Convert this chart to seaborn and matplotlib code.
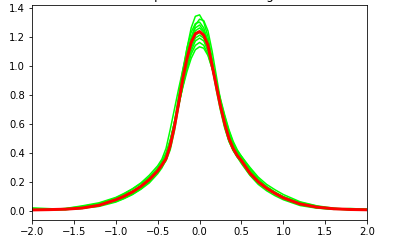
import numpy as np
import pandas as pd
import matplotlib
matplotlib.use("Agg")
import matplotlib.pyplot as plt
import seaborn as sns

# common grid (finer near the peak)
x_grid = [-2.0, -1.8, -1.6, -1.4, -1.2, -1.0, -0.9, -0.8, -0.7, -0.6, -0.5,
          -0.45, -0.4, -0.35, -0.3, -0.25, -0.2, -0.15, -0.1, -0.05, 0.0,
          0.05, 0.1, 0.15, 0.2, 0.25, 0.3, 0.35, 0.4, 0.45, 0.5,
          0.6, 0.7, 0.8, 0.9, 1.0, 1.2, 1.4, 1.6, 1.8, 2.0]

# mean density (red)
mean_density = [0.006, 0.008, 0.011, 0.019, 0.038, 0.076, 0.100, 0.130, 0.168, 0.215, 0.275,
                0.315, 0.36, 0.45, 0.58, 0.74, 0.91, 1.05, 1.16, 1.22, 1.235,
                1.21, 1.14, 1.00, 0.86, 0.72, 0.60, 0.50, 0.43, 0.38, 0.345,
                0.26, 0.20, 0.155, 0.12, 0.089, 0.047, 0.025, 0.014, 0.009, 0.007]

# bootstrap densities (green)
boot_1 = [0.020, 0.015, 0.010, 0.018, 0.030, 0.060, 0.084, 0.112, 0.148, 0.192, 0.255,
          0.295, 0.35, 0.44, 0.58, 0.76, 0.95, 1.12, 1.26, 1.34, 1.35,
          1.30, 1.20, 1.05, 0.88, 0.72, 0.59, 0.49, 0.42, 0.37, 0.325,
          0.245, 0.182, 0.138, 0.104, 0.076, 0.036, 0.018, 0.012, 0.010, 0.008]
boot_2 = [0.008, 0.006, 0.012, 0.025, 0.035, 0.072, 0.098, 0.128, 0.162, 0.208, 0.268,
          0.305, 0.345, 0.42, 0.55, 0.72, 0.90, 1.06, 1.19, 1.28, 1.32,
          1.31, 1.24, 1.10, 0.93, 0.76, 0.62, 0.51, 0.44, 0.385, 0.345,
          0.262, 0.198, 0.150, 0.118, 0.092, 0.050, 0.020, 0.010, 0.012, 0.006]
boot_3 = [0.004, 0.006, 0.009, 0.016, 0.042, 0.080, 0.105, 0.132, 0.170, 0.212, 0.27,
          0.31, 0.36, 0.46, 0.61, 0.79, 0.97, 1.12, 1.23, 1.29, 1.30,
          1.26, 1.17, 1.02, 0.86, 0.71, 0.58, 0.48, 0.415, 0.37, 0.335,
          0.250, 0.192, 0.152, 0.122, 0.090, 0.042, 0.024, 0.016, 0.008, 0.005]
boot_4 = [0.010, 0.009, 0.016, 0.034, 0.055, 0.092, 0.120, 0.152, 0.192, 0.245, 0.31,
          0.355, 0.43, 0.56, 0.70, 0.84, 0.97, 1.09, 1.19, 1.26, 1.28,
          1.24, 1.14, 0.99, 0.83, 0.69, 0.57, 0.48, 0.42, 0.375, 0.34,
          0.258, 0.196, 0.155, 0.125, 0.095, 0.052, 0.028, 0.015, 0.010, 0.009]
boot_5 = [0.006, 0.010, 0.013, 0.020, 0.034, 0.074, 0.102, 0.124, 0.160, 0.210, 0.28,
          0.32, 0.37, 0.46, 0.59, 0.75, 0.92, 1.07, 1.18, 1.24, 1.26,
          1.23, 1.15, 1.02, 0.87, 0.73, 0.61, 0.51, 0.44, 0.39, 0.355,
          0.27, 0.21, 0.165, 0.128, 0.094, 0.048, 0.030, 0.013, 0.007, 0.008]
boot_6 = [0.016, 0.010, 0.008, 0.018, 0.040, 0.078, 0.096, 0.126, 0.170, 0.222, 0.285,
          0.33, 0.38, 0.47, 0.59, 0.74, 0.89, 1.03, 1.14, 1.21, 1.23,
          1.20, 1.12, 0.99, 0.85, 0.72, 0.61, 0.52, 0.45, 0.395, 0.355,
          0.275, 0.208, 0.160, 0.120, 0.090, 0.058, 0.032, 0.012, 0.016, 0.010]
boot_7 = [0.005, 0.007, 0.012, 0.024, 0.044, 0.064, 0.086, 0.114, 0.152, 0.200, 0.27,
          0.32, 0.38, 0.48, 0.61, 0.75, 0.89, 1.02, 1.12, 1.19, 1.21,
          1.19, 1.12, 1.01, 0.88, 0.75, 0.63, 0.53, 0.455, 0.40, 0.36,
          0.272, 0.205, 0.158, 0.125, 0.098, 0.055, 0.024, 0.011, 0.008, 0.006]
boot_8 = [0.012, 0.008, 0.010, 0.018, 0.036, 0.084, 0.110, 0.136, 0.172, 0.220, 0.28,
          0.325, 0.375, 0.46, 0.58, 0.72, 0.86, 0.99, 1.10, 1.17, 1.19,
          1.17, 1.10, 0.99, 0.86, 0.74, 0.63, 0.54, 0.465, 0.41, 0.375,
          0.300, 0.232, 0.182, 0.145, 0.112, 0.062, 0.034, 0.018, 0.010, 0.007]
boot_9 = [0.007, 0.009, 0.015, 0.030, 0.050, 0.088, 0.116, 0.150, 0.188, 0.232, 0.29,
          0.335, 0.39, 0.48, 0.60, 0.73, 0.86, 0.98, 1.08, 1.14, 1.16,
          1.14, 1.08, 0.98, 0.87, 0.76, 0.65, 0.55, 0.47, 0.41, 0.365,
          0.28, 0.212, 0.162, 0.124, 0.092, 0.046, 0.028, 0.014, 0.009, 0.010]
boot_10 = [0.009, 0.012, 0.012, 0.022, 0.042, 0.080, 0.106, 0.134, 0.174, 0.228, 0.295,
           0.34, 0.40, 0.49, 0.61, 0.73, 0.85, 0.96, 1.05, 1.11, 1.13,
           1.12, 1.07, 0.98, 0.88, 0.77, 0.66, 0.56, 0.48, 0.42, 0.375,
           0.29, 0.22, 0.168, 0.128, 0.096, 0.052, 0.022, 0.012, 0.011, 0.008]

boot_curves = [boot_1, boot_2, boot_3, boot_4, boot_5,
               boot_6, boot_7, boot_8, boot_9, boot_10]

boot_df = pd.DataFrame({
    "x": x_grid * len(boot_curves),
    "density": [v for curve in boot_curves for v in curve],
    "sample": np.repeat(np.arange(len(boot_curves)), len(x_grid)),
})
mean_df = pd.DataFrame({"x": x_grid, "density": mean_density})

fig = plt.figure(figsize=(394 / 72, 242 / 72), dpi=72)
ax = fig.add_axes([0.081, 0.091, 0.851, 0.888])

sns.lineplot(data=boot_df, x="x", y="density", units="sample", estimator=None,
             color="lime", linewidth=1.5, ax=ax)
sns.lineplot(data=mean_df, x="x", y="density", color="red", linewidth=3, ax=ax)

ax.set_xlim(-2, 2)
ax.set_xticks([-2.0, -1.5, -1.0, -0.5, 0.0, 0.5, 1.0, 1.5, 2.0])
ax.set_yticks([0.0, 0.2, 0.4, 0.6, 0.8, 1.0, 1.2, 1.4])
ax.set_xlabel("")
ax.set_ylabel("")
# title sits above the figure edge, as in the reference
ax.set_title("Bootstrap KDEs and the original")

fig.savefig("out.png", dpi=72)
